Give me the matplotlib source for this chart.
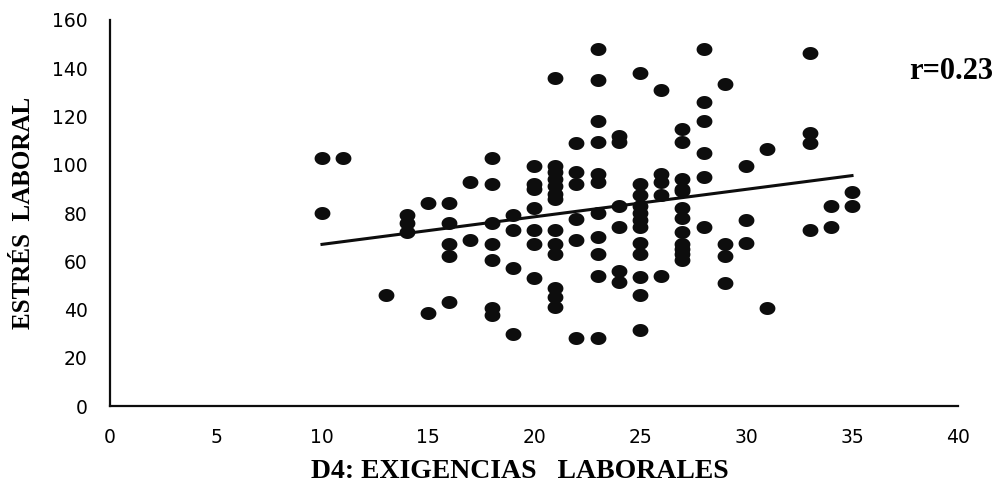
import numpy as np
import matplotlib
matplotlib.use("Agg")
import matplotlib.pyplot as plt
from matplotlib.path import Path

# Data (x = D4 score, y = estrés laboral)
x10 = [10, 10]; y10 = [103, 80]
x11 = [11]; y11 = [103]
x13 = [13]; y13 = [46]
x14 = [14, 14, 14]; y14 = [79, 76, 72]
x15 = [15, 15]; y15 = [84, 38.5]
x16 = [16] * 5; y16 = [84, 76, 67, 62, 43]
x17 = [17, 17]; y17 = [93, 69]
x18 = [18] * 7; y18 = [103, 92, 76, 67, 60.5, 40.6, 37.7]
x19 = [19] * 4; y19 = [79, 73, 57, 30]
x20 = [20] * 7; y20 = [99.5, 92, 90, 82, 73, 67, 53]
x21 = [21] * 13; y21 = [136, 99.5, 97, 94, 91, 88, 86, 73, 67, 63, 49, 45, 41]
x22 = [22] * 6; y22 = [109, 97, 92, 77.5, 69, 28]
x23 = [23] * 11; y23 = [148, 135, 118, 109.5, 96, 93, 80, 70, 63, 54, 28]
x24 = [24] * 6; y24 = [112, 109.5, 83, 74, 56, 51.5]
x25 = [25] * 12; y25 = [138, 92, 87.5, 83, 80, 77, 74, 67.5, 63, 53.5, 46, 31.5]
x26 = [26] * 5; y26 = [131, 96, 93, 87.5, 54]
x27 = [27] * 12; y27 = [115, 109.5, 94, 90, 89, 82, 78, 72, 67, 63, 60.5, 65]
x28 = [28] * 6; y28 = [148, 126, 118, 105, 95, 74]
x29 = [29] * 4; y29 = [133.5, 67, 62, 51]
x30 = [30] * 3; y30 = [99.5, 77, 67.5]
x31 = [31, 31]; y31 = [106.5, 40.6]
x33 = [33] * 4; y33 = [146.5, 113, 109, 73]
x34 = [34, 34]; y34 = [83, 74]
x35 = [35, 35]; y35 = [88.7, 83]

xs = np.array(x10 + x11 + x13 + x14 + x15 + x16 + x17 + x18 + x19 + x20 + x21 + x22 +
              x23 + x24 + x25 + x26 + x27 + x28 + x29 + x30 + x31 + x33 + x34 + x35, float)
ys = np.array(y10 + y11 + y13 + y14 + y15 + y16 + y17 + y18 + y19 + y20 + y21 + y22 +
              y23 + y24 + y25 + y26 + y27 + y28 + y29 + y30 + y31 + y33 + y34 + y35, float)

# Trend line
trend_x = [10, 35]
trend_y = [67, 95.5]

x_ticks = [0, 5, 10, 15, 20, 25, 30, 35, 40]
y_ticks = [0, 20, 40, 60, 80, 100, 120, 140, 160]

fig = plt.figure(figsize=(10, 4.83), dpi=100)
ax = fig.add_axes([0.110, 0.1594, 0.848, 0.7992])

t = np.linspace(0, 2 * np.pi, 60)
ell = Path(np.column_stack([np.cos(t), 0.82 * np.sin(t)]))

ax.scatter(xs, ys, s=130, marker=ell, color="#0d0d0d", linewidths=0, zorder=3)
ax.plot(trend_x, trend_y, color="#0d0d0d", lw=2.2, zorder=4)

ax.set_xlim(0, 40)
ax.set_ylim(0, 160)
ax.set_xticks(x_ticks)
ax.set_yticks(y_ticks)
ax.tick_params(length=0, labelsize=13.5, colors="#000000")
ax.tick_params(axis="y", pad=16)
ax.tick_params(axis="x", pad=16)
for lab in ax.get_xticklabels() + ax.get_yticklabels():
    lab.set_fontfamily("DejaVu Sans")
for s in ["top", "right"]:
    ax.spines[s].set_visible(False)
for s in ["left", "bottom"]:
    ax.spines[s].set_linewidth(1.6)
    ax.spines[s].set_color("#0d0d0d")

fig.text(0.52, 0.0234, "D4: EXIGENCIAS   LABORALES", fontfamily="Liberation Serif",
         fontweight="bold", fontsize=20, ha="center", va="center")
fig.text(0.024, 0.559, "ESTRÉS  LABORAL", fontfamily="Liberation Serif",
         fontweight="bold", fontsize=18, ha="center", va="center", rotation=90)
fig.text(0.951, 0.851, "r=0.23", fontfamily="Liberation Serif", fontweight="bold",
         fontsize=22, ha="center", va="center")

fig.savefig("out.png", dpi=100, facecolor="white")
